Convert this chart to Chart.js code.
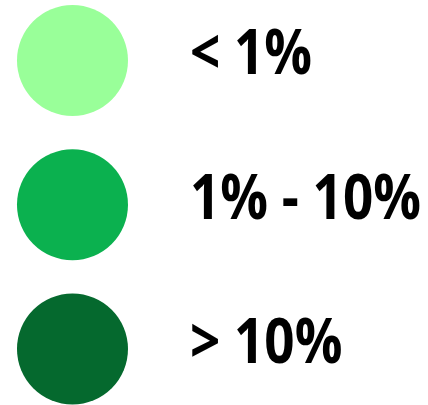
<!DOCTYPE html>
<html>
<head>
<meta charset="utf-8">
<script src="https://cdn.jsdelivr.net/npm/chart.js@4/dist/chart.umd.min.js"></script>
<style>
  html, body { margin: 0; padding: 0; background: #fff; }
  #wrap { width: 428px; height: 405px; position: relative; }
</style>
</head>
<body>
<div id="wrap"><canvas id="legendChart"></canvas></div>
<script>
// legend classes, top to bottom
const labels = ['< 1%', '1% - 10%', '> 10%'];
const rows = [0, 1, 2];
const colors = ['#99ff99', '#0bb14f', '#05692e'];

// draws each class label to the right of its circle
const labelPlugin = {
    id: 'rowLabels',
    afterDatasetsDraw(chart) {
        const { ctx, scales } = chart;
        ctx.save();
        ctx.fillStyle = '#000';
        ctx.font = 'bold 53px "Open Sans"';
        ctx.textAlign = 'left';
        ctx.textBaseline = 'alphabetic';
        rows.forEach((r, i) => {
            const x = scales.x.getPixelForValue(1);
            const y = scales.y.getPixelForValue(r) + 14;
            ctx.save();
            ctx.translate(x, y);
            ctx.scale(1, 1.17);   // glyphs are a bit taller than wide in the original
            ctx.fillText(labels[i], 0, 0);
            ctx.restore();
        });
        ctx.restore();
    }
};

const ctx = document.getElementById('legendChart').getContext('2d');
new Chart(ctx, {
    type: 'scatter',
    data: {
        datasets: [{
            data: rows.map(r => ({ x: 0, y: r })),
            backgroundColor: colors,
            borderWidth: 0,
            pointRadius: 55.5,
            pointHoverRadius: 55.5,
            clip: false
        }]
    },
    options: {
        responsive: true,
        maintainAspectRatio: false,
        animation: false,
        events: [],
        layout: { padding: 0, autoPadding: false },
        plugins: {
            legend: { display: false },
            tooltip: { enabled: false }
        },
        scales: {
            x: { type: 'linear', display: false, bounds: 'data', min: -0.617, max: 3.026 },
            y: { type: 'linear', display: false, bounds: 'data', reverse: true, min: -0.419, max: 2.388 }
        }
    },
    plugins: [labelPlugin]
});
</script>
</body>
</html>
